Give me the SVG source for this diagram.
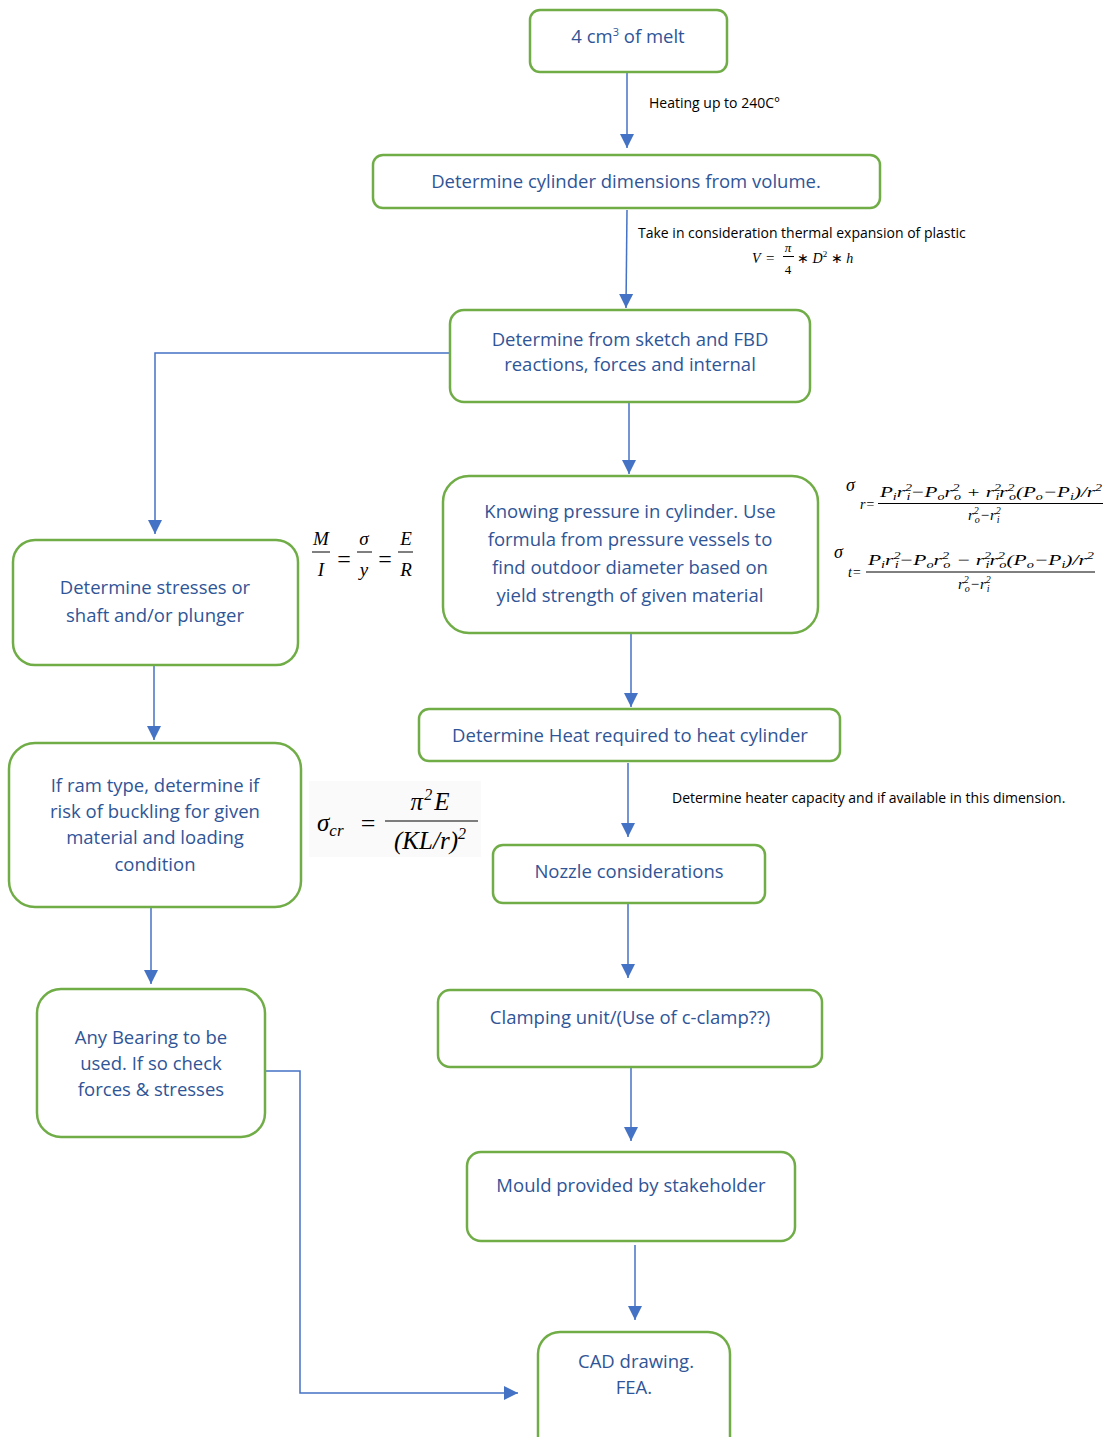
<svg xmlns="http://www.w3.org/2000/svg" width="1110" height="1437" viewBox="0 0 1110 1437">
<defs>
<marker id="arr" markerUnits="userSpaceOnUse" markerWidth="16" markerHeight="16" viewBox="0 0 16 16" refX="15" refY="8" orient="auto">
<path d="M1,1 L15,8 L1,15 Z" fill="#4472C4"/>
</marker>
</defs>
<style>
.box{fill:#fff;stroke:#70AD47;stroke-width:2.5}
.t{font-family:"Open Sans","Liberation Sans",Arial,sans-serif;font-size:18.5px;fill:#2F5597;text-anchor:middle}
.c{fill:none;stroke:#4472C4;stroke-width:1.5;marker-end:url(#arr)}
.lbl{font-family:"Open Sans","Liberation Sans",Arial,sans-serif;font-size:14px;fill:#000}
.m{font-family:"Liberation Serif","Times New Roman",serif;font-style:italic;fill:#000}
.mu{font-family:"Liberation Serif","Times New Roman",serif;fill:#000}
.fl{stroke:#000;stroke-width:1}
</style>
<rect width="1110" height="1437" fill="#fff"/>

<g id="connectors">
<path class="c" d="M627,72 V148"/>
<path class="c" d="M627,210 L626,308"/>
<path class="c" d="M450,353 H155 V534"/>
<path class="c" d="M629,402 V474"/>
<path class="c" d="M631,633 V707"/>
<path class="c" d="M154,665 V740"/>
<path class="c" d="M628,763 V837"/>
<path class="c" d="M628,903 V978"/>
<path class="c" d="M631,1068 V1141"/>
<path class="c" d="M635,1245 V1320"/>
<path class="c" d="M151,908 V984"/>
<path class="c" d="M265,1071 H300 V1393 H518"/>
</g>

<g id="labels">
<text class="lbl" x="649" y="108">Heating up to 240C°</text>
<text class="lbl" x="638" y="238">Take in consideration thermal expansion of plastic</text>
<text class="lbl" x="672" y="803">Determine heater capacity and if available in this dimension.</text>
</g>

<g id="n1"><rect class="box" x="530" y="10" width="197" height="62" rx="10"/>
<text class="t" x="628" y="43">4 cm<tspan font-size="11" dy="-7">3</tspan><tspan dy="7"> of melt</tspan></text></g>

<g id="n2"><rect class="box" x="373" y="155" width="507" height="53" rx="10"/>
<text class="t" x="626" y="188">Determine cylinder dimensions from volume.</text></g>

<g id="n3"><rect class="box" x="450" y="310" width="360" height="92" rx="14"/>
<text class="t" x="630" y="346">Determine from sketch and FBD</text>
<text class="t" x="630" y="371">reactions, forces and internal</text></g>

<g id="n4"><rect class="box" x="443" y="476" width="375" height="157" rx="26"/>
<text class="t" x="630" y="518">Knowing pressure in cylinder. Use</text>
<text class="t" x="630" y="546">formula from pressure vessels to</text>
<text class="t" x="630" y="574">find outdoor diameter based on</text>
<text class="t" x="630" y="602">yield strength of given material</text></g>

<g id="n5"><rect class="box" x="13" y="540" width="285" height="125" rx="22"/>
<text class="t" x="155" y="594">Determine stresses or</text>
<text class="t" x="155" y="622">shaft and/or plunger</text></g>

<g id="n6"><rect class="box" x="9" y="743" width="292" height="164" rx="26"/>
<text class="t" x="155" y="792">If ram type, determine if</text>
<text class="t" x="155" y="818">risk of buckling for given</text>
<text class="t" x="155" y="844">material and loading</text>
<text class="t" x="155" y="871">condition</text></g>

<g id="n7"><rect class="box" x="37" y="989" width="228" height="148" rx="24"/>
<text class="t" x="151" y="1044">Any Bearing to be</text>
<text class="t" x="151" y="1070">used. If so check</text>
<text class="t" x="151" y="1096">forces &amp; stresses</text></g>

<g id="n8"><rect class="box" x="419" y="709" width="421" height="52" rx="10"/>
<text class="t" x="630" y="742">Determine Heat required to heat cylinder</text></g>

<g id="n9"><rect class="box" x="493" y="845" width="272" height="58" rx="10"/>
<text class="t" x="629" y="878">Nozzle considerations</text></g>

<g id="n10"><rect class="box" x="438" y="990" width="384" height="77" rx="12"/>
<text class="t" x="630" y="1024">Clamping unit/(Use of c-clamp??)</text></g>

<g id="n11"><rect class="box" x="467" y="1152" width="328" height="89" rx="14"/>
<text class="t" x="631" y="1192">Mould provided by stakeholder</text></g>

<g id="n12"><rect class="box" x="538" y="1332" width="192" height="130" rx="22"/>
<text class="t" x="636" y="1368">CAD drawing.</text>
<text class="t" x="634" y="1394">FEA.</text></g>

<g id="formula-volume">
<text class="m" x="752" y="263" font-size="14">V</text>
<text class="mu" x="766" y="263" font-size="15">=</text>
<text class="m" x="788" y="252" font-size="13" text-anchor="middle">π</text>
<line class="fl" x1="783" y1="256.5" x2="794" y2="256.5"/>
<text class="mu" x="788" y="274" font-size="13" text-anchor="middle">4</text>
<text class="mu" x="797" y="263" font-size="14">∗ <tspan class="m">D</tspan><tspan font-size="9" dy="-6">2</tspan><tspan dy="6"> ∗ </tspan><tspan class="m">h</tspan></text>
</g>

<g id="formula-flexure">
<text class="m" x="321" y="545" font-size="19" text-anchor="middle">M</text>
<line class="fl" x1="312" y1="552" x2="330" y2="552"/>
<text class="m" x="321" y="576" font-size="19" text-anchor="middle">I</text>
<text class="mu" x="344" y="567" font-size="24" text-anchor="middle">=</text>
<text class="m" x="364" y="545" font-size="19" text-anchor="middle">σ</text>
<line class="fl" x1="357" y1="552" x2="372" y2="552"/>
<text class="m" x="364" y="576" font-size="19" text-anchor="middle">y</text>
<text class="mu" x="385" y="567" font-size="24" text-anchor="middle">=</text>
<text class="m" x="406" y="545" font-size="19" text-anchor="middle">E</text>
<line class="fl" x1="398" y1="552" x2="413" y2="552"/>
<text class="m" x="406" y="576" font-size="19" text-anchor="middle">R</text>
</g>

<g id="formula-buckling">
<rect x="309" y="781" width="172" height="76" fill="#fafafa"/>
<text class="m" x="317" y="831" font-size="25">σ<tspan font-size="17" dy="5">cr</tspan></text>
<text class="mu" x="368" y="832" font-size="26" text-anchor="middle">=</text>
<text class="m" x="430" y="810" font-size="25" text-anchor="middle">π<tspan class="mu" font-size="16" dy="-10" dx="1">2</tspan><tspan dy="10" dx="2">E</tspan></text>
<line class="fl" x1="385" y1="821" x2="478" y2="821" stroke-width="1.2"/>
<text class="m" x="430" y="849" font-size="25" text-anchor="middle"><tspan class="mu">(</tspan>KL/r<tspan class="mu">)</tspan><tspan class="mu" font-size="16" dy="-10">2</tspan></text>
</g>

<g id="formula-radial">
<text class="m" x="846" y="491" font-size="18">σ</text>
<text class="m" x="860" y="509" font-size="14">r<tspan class="mu">=</tspan></text>
<text class="m" x="880" y="497" font-size="15" textLength="222" lengthAdjust="spacingAndGlyphs">P<tspan font-size="10" dy="3">i</tspan><tspan dy="-3">r</tspan><tspan class="mu" font-size="10" dy="-6">2</tspan><tspan font-size="10" dx="-4" dy="9">i</tspan><tspan class="mu" dy="-3">−</tspan>P<tspan font-size="10" dy="3">o</tspan><tspan dy="-3">r</tspan><tspan class="mu" font-size="10" dy="-6">2</tspan><tspan font-size="10" dx="-4" dy="9">o</tspan><tspan class="mu" dy="-3"> + </tspan>r<tspan class="mu" font-size="10" dy="-6">2</tspan><tspan font-size="10" dx="-4" dy="9">i</tspan><tspan dy="-3">r</tspan><tspan class="mu" font-size="10" dy="-6">2</tspan><tspan font-size="10" dx="-4" dy="9">o</tspan><tspan class="mu" dy="-3">(</tspan>P<tspan font-size="10" dy="3">o</tspan><tspan class="mu" dy="-3">−</tspan>P<tspan font-size="10" dy="3">i</tspan><tspan class="mu" dy="-3">)/</tspan>r<tspan class="mu" font-size="10" dy="-6">2</tspan></text>
<line class="fl" x1="878" y1="503.5" x2="1103" y2="503.5"/>
<text class="m" x="968" y="520" font-size="15">r<tspan class="mu" font-size="10" dy="-6">2</tspan><tspan font-size="10" dx="-4" dy="9">o</tspan><tspan class="mu" dy="-3">−</tspan>r<tspan class="mu" font-size="10" dy="-6">2</tspan><tspan font-size="10" dx="-4" dy="9">i</tspan></text>
</g>

<g id="formula-tangential">
<text class="m" x="834" y="558" font-size="18">σ</text>
<text class="m" x="848" y="577" font-size="14">t<tspan class="mu">=</tspan></text>
<text class="m" x="868" y="565" font-size="15" textLength="226" lengthAdjust="spacingAndGlyphs">P<tspan font-size="10" dy="3">i</tspan><tspan dy="-3">r</tspan><tspan class="mu" font-size="10" dy="-6">2</tspan><tspan font-size="10" dx="-4" dy="9">i</tspan><tspan class="mu" dy="-3">−</tspan>P<tspan font-size="10" dy="3">o</tspan><tspan dy="-3">r</tspan><tspan class="mu" font-size="10" dy="-6">2</tspan><tspan font-size="10" dx="-4" dy="9">o</tspan><tspan class="mu" dy="-3"> − </tspan>r<tspan class="mu" font-size="10" dy="-6">2</tspan><tspan font-size="10" dx="-4" dy="9">i</tspan><tspan dy="-3">r</tspan><tspan class="mu" font-size="10" dy="-6">2</tspan><tspan font-size="10" dx="-4" dy="9">o</tspan><tspan class="mu" dy="-3">(</tspan>P<tspan font-size="10" dy="3">o</tspan><tspan class="mu" dy="-3">−</tspan>P<tspan font-size="10" dy="3">i</tspan><tspan class="mu" dy="-3">)/</tspan>r<tspan class="mu" font-size="10" dy="-6">2</tspan></text>
<line class="fl" x1="866" y1="572" x2="1095" y2="572"/>
<text class="m" x="958" y="589" font-size="15">r<tspan class="mu" font-size="10" dy="-6">2</tspan><tspan font-size="10" dx="-4" dy="9">o</tspan><tspan class="mu" dy="-3">−</tspan>r<tspan class="mu" font-size="10" dy="-6">2</tspan><tspan font-size="10" dx="-4" dy="9">i</tspan></text>
</g>
</svg>
